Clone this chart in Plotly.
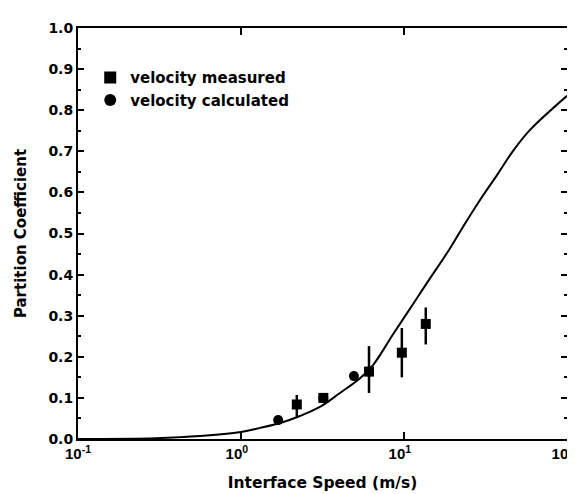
import plotly.graph_objects as go

# Model curve
curve_v = [0.1, 0.3, 0.56, 1.0, 1.31, 1.74, 2.3, 3.05, 4.05, 5.37, 6.46, 8.57, 11.4, 14.5, 18.4, 23.0, 29.2, 37.2, 46.7, 59.3, 100]
curve_k = [0.0, 0.002, 0.007, 0.017, 0.027, 0.039, 0.056, 0.078, 0.112, 0.148, 0.180, 0.255, 0.329, 0.392, 0.453, 0.516, 0.581, 0.642, 0.701, 0.752, 0.835]

# velocity measured (squares) with error bars
meas_v = [2.2, 3.2, 6.1, 9.7, 13.6]
meas_k = [0.084, 0.10, 0.164, 0.21, 0.28]
meas_hi = [0.107, 0.105, 0.226, 0.27, 0.32]
meas_lo = [0.054, 0.095, 0.112, 0.15, 0.23]

# velocity calculated (circles)
calc_v = [1.69, 3.2, 4.93, 6.1]
calc_k = [0.046, 0.10, 0.153, 0.164]

x_tickvals = [0.1, 1, 10, 100]
x_ticktext = ["10<sup>-1</sup>", "10<sup>0</sup>\u00a0\u00a0", "10<sup>1</sup>\u00a0\u00a0", "10<sup>2</sup>\u00a0\u00a0"]
y_tickvals = [0.0, 0.1, 0.2, 0.3, 0.4, 0.5, 0.6, 0.7, 0.8, 0.9, 1.0]

FONT = "DejaVu Sans"
NUMFONT = "Liberation Sans"

fig = go.Figure()
fig.add_trace(go.Scatter(x=curve_v, y=curve_k, mode="lines",
                         line=dict(color="black", width=2, shape="spline"),
                         showlegend=False, hoverinfo="skip"))
fig.add_trace(go.Scatter(
    x=meas_v, y=meas_k, mode="markers", name="velocity measured",
    marker=dict(symbol="square", size=10, color="black"),
    error_y=dict(type="data", symmetric=False,
                 array=[h - k for h, k in zip(meas_hi, meas_k)],
                 arrayminus=[k - l for k, l in zip(meas_k, meas_lo)],
                 color="black", thickness=2.5, width=0)))
fig.add_trace(go.Scatter(
    x=calc_v, y=calc_k, mode="markers", name="velocity calculated",
    marker=dict(symbol="circle", size=10, color="black")))

fig.update_layout(
    width=575, height=494,
    margin=dict(l=70, r=16, t=20, b=63),
    paper_bgcolor="white", plot_bgcolor="white",
    font=dict(family=FONT, size=14, color="black", weight="bold"),
    legend=dict(x=0.025, y=0.919, xanchor="left", yanchor="top", bgcolor="rgba(0,0,0,0)",
                font=dict(family=FONT, size=15, color="black", weight="bold"),
                itemsizing="constant", tracegroupgap=0),
    showlegend=True,
)
fig.update_xaxes(
    type="log", range=[-1, 2], showline=True, linewidth=2, linecolor="black", mirror="ticks",
    ticks="inside", ticklen=7, tickwidth=1.5, tickcolor="black",
    tickvals=x_tickvals, ticktext=x_ticktext, showgrid=False, zeroline=False,
    automargin=False,
    tickfont=dict(family=NUMFONT, size=15, color="black", weight="bold"),
    title=dict(text="Interface Speed (m/s)", standoff=16,
               font=dict(family=FONT, size=15.5, color="black", weight="bold")),
)
fig.update_yaxes(
    range=[0, 1.0], showline=True, linewidth=2, linecolor="black", mirror="ticks",
    ticks="inside", ticklen=6, tickwidth=1.5, tickcolor="black",
    tickvals=y_tickvals, tickformat=".1f", showgrid=False, zeroline=False,
    minor=dict(ticks="inside", ticklen=3, dtick=0.05, tickcolor="black", showgrid=False),
    automargin=False,
    tickfont=dict(family=FONT, size=14, color="black", weight="bold"),
    title=dict(text="Partition Coefficient", standoff=18,
               font=dict(family=FONT, size=15, color="black", weight="bold")),
)

fig.write_html("out.html")
